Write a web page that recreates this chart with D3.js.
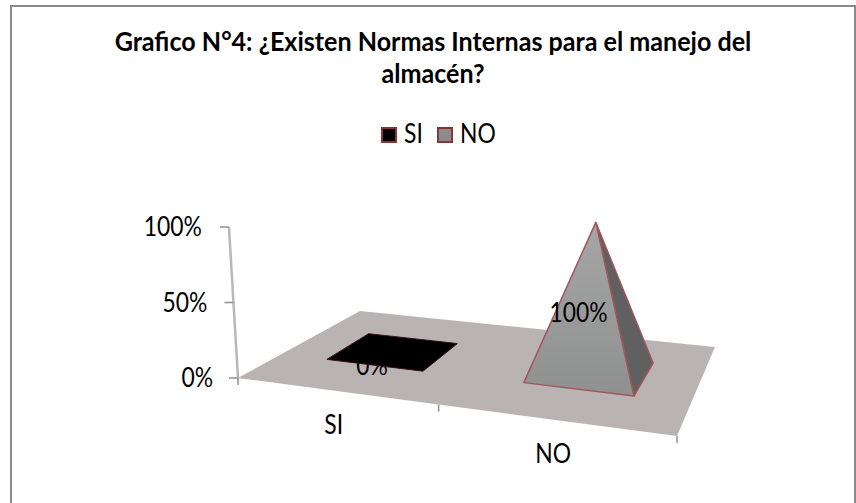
<!DOCTYPE html>
<html lang="es">
<head>
<meta charset="UTF-8">
<title>Grafico N°4</title>
<script src="https://d3js.org/d3.v7.min.js"></script>
<style>
    html, body { margin: 0; padding: 0; background: #fff; overflow: hidden; }
    svg { display: block; }
    text { font-family: Lato, sans-serif; fill: #000; }
</style>
</head>
<body>
<div id="chart"></div>
<script>
    // chart values
    var titleLines = ["Grafico N°4: ¿Existen Normas Internas para el manejo del", "almacén?"];
    var categories = ["SI", "NO"];
    var values = [0, 100];
    var valueLabels = ["0%", "100%"];
    var yTicks = [0, 50, 100];
    var yTickLabels = ["0%", "50%", "100%"];
    var seriesColors = ["#000000", "#8c8c8c"];

    var width = 856, height = 503;
    var labelSize = 26;

    var svg = d3.select("#chart").append("svg")
        .attr("width", width)
        .attr("height", height);

    // the original font is narrower than Lato, squeeze the glyphs a bit
    function squeeze(sel, factor) {
        sel.each(function() {
            d3.select(this)
                .attr("textLength", this.getComputedTextLength() * factor)
                .attr("lengthAdjust", "spacingAndGlyphs");
        });
    }

    var defs = svg.append("defs");
    defs.append("filter").attr("id", "soft")
        .append("feGaussianBlur").attr("stdDeviation", 0.6);
    var grad = defs.append("linearGradient").attr("id", "front")
        .attr("x1", 0).attr("y1", 0).attr("x2", 0).attr("y2", 1);
    grad.append("stop").attr("offset", 0).attr("stop-color", "#a6a6a6");
    grad.append("stop").attr("offset", 1).attr("stop-color", "#8f9090");

    // outer frame, its bottom edge falls below the window
    svg.append("rect")
        .attr("x", 11).attr("y", 6)
        .attr("width", 844).attr("height", 520)
        .attr("fill", "#fff")
        .attr("stroke", "#8a8a8a")
        .attr("stroke-width", 2);

    svg.selectAll(".title").data(titleLines).enter().append("text")
        .attr("class", "title")
        .attr("x", 433)
        .attr("y", function(d, i) { return 51 + i * 32; })
        .attr("text-anchor", "middle")
        .attr("font-size", 26)
        .attr("font-weight", 700)
        .text(function(d) { return d; })
        .call(squeeze, 0.965);

    // the floor is a perspective quad, so u/v go through two edge scales
    var frontX = d3.scaleLinear().domain([0, 1]).range([238, 677]);
    var frontY = d3.scaleLinear().domain([0, 1]).range([378, 436]);
    var backX = d3.scaleLinear().domain([0, 1]).range([360, 715]);
    var backY = d3.scaleLinear().domain([0, 1]).range([311, 347]);

    var y = d3.scaleLinear().domain([0, 100]).range([0, 151]);
    // verticals lean outwards the further right they stand
    var lean = d3.scaleLinear().domain([238, 590]).range([-0.06, 0.034]);

    var catU = d3.scalePoint().domain(categories).range([0.2275, 0.725]);
    var catV = d3.scalePoint().domain(categories).range([0.545, 0.5625]);
    var halfU = d3.scalePoint().domain(categories).range([0.1175, 0.135]);
    var halfV = d3.scalePoint().domain(categories).range([0.185, 0.1925]);

    function project(u, v, val) {
        var fx = frontX(u), fy = frontY(u);
        var px = fx + (backX(u) - fx) * v;
        var py = fy + (backY(u) - fy) * v;
        var h = y(val || 0);
        return [px + lean(px) * h, py - h];
    }

    var line = d3.line();

    // floor
    var plot = svg.append("g").attr("filter", "url(#soft)");
    plot.append("path")
        .attr("d", line([project(0, 0), project(1, 0), project(1, 1), project(0, 1)]) + "Z")
        .attr("fill", "#bab3b4");

    // value axis
    var axisColor = "#8f8f8f";
    plot.append("path")
        .attr("d", line([project(0, 0, 100), project(0, 0, 0)]))
        .attr("fill", "none").attr("stroke", "#b8b8b8").attr("stroke-width", 2.5);
    yTicks.forEach(function(t, i) {
        var p = project(0, 0, t);
        plot.append("path")
            .attr("d", line([[p[0] - 9, p[1]], p]))
            .attr("stroke", axisColor).attr("stroke-width", 1.5);
        svg.append("text")
            .attr("x", p[0] - 25 - (t === 50 ? 1 : 0) - (t === 100 ? 2 : 0))
            .attr("y", p[1] + 9)
            .attr("text-anchor", "end")
            .attr("font-size", labelSize)
            .text(yTickLabels[i])
            .call(squeeze, 0.88);
    });

    // category axis ticks, the middle one is foreshortened
    [0, 0.457, 1].forEach(function(u) {
        var p = project(u, 0);
        plot.append("path")
            .attr("d", line([p, [p[0], p[1] + 7]]))
            .attr("stroke", axisColor).attr("stroke-width", 1.5);
    });

    var catLabelU = d3.scalePoint().domain(categories).range([0.25, 0.75]);
    categories.forEach(function(c) {
        var p = project(catLabelU(c), 0);
        svg.append("text")
            .attr("x", p[0] - 14)
            .attr("y", p[1] + 41)
            .attr("text-anchor", "middle")
            .attr("font-size", labelSize)
            .text(c)
            .call(squeeze, 0.88);
    });

    var edge = "#a2565c";

    categories.forEach(function(c, i) {
        var u = catU(c), v = catV(c), du = halfU(c), dv = halfV(c);
        var fl = project(u - du, v - dv), fr = project(u + du, v - dv);
        var br = project(u + du, v + dv), bl = project(u - du, v + dv);
        var center = project(u, v);

        // the 0% label sits behind its flat marker, the 100% one in front
        var label = svg.append("text")
            .attr("text-anchor", "middle")
            .attr("font-size", labelSize)
            .text(valueLabels[i])
            .call(squeeze, 0.88);

        if (values[i] === 0) {
            label.attr("x", center[0] - 22).attr("y", center[1] + 23);
            svg.append("path")
                .attr("d", line([fl, fr, br, bl]) + "Z")
                .attr("fill", seriesColors[i])
                .attr("stroke", "#3a1015")
                .attr("stroke-width", 1)
                .attr("filter", "url(#soft)");
        } else {
            var apex = project(u, v, values[i]);
            var pyr = svg.append("g").attr("filter", "url(#soft)");
            pyr.append("path")
                .attr("d", line([fr, br, apex]) + "Z")
                .attr("fill", "#606060")
                .attr("stroke", edge).attr("stroke-width", 1.5).attr("stroke-linejoin", "round");
            pyr.append("path")
                .attr("d", line([fl, fr, apex]) + "Z")
                .attr("fill", "url(#front)")
                .attr("stroke", edge).attr("stroke-width", 1.5).attr("stroke-linejoin", "round");
            label.raise();
            label.attr("x", center[0] - 12).attr("y", center[1] - 51);
        }
    });

    // legend
    var legendX = d3.scalePoint().domain(categories).range([381, 437]);
    var legend = svg.selectAll(".legend").data(categories).enter().append("g")
        .attr("class", "legend")
        .attr("transform", function(d) { return "translate(" + legendX(d) + ",127)"; });
    legend.append("rect")
        .attr("x", 1).attr("y", 1)
        .attr("width", 14).attr("height", 14)
        .attr("fill", function(d, i) { return seriesColors[i]; })
        .attr("stroke", "#8b3434")
        .attr("stroke-width", 2);
    legend.append("text")
        .attr("x", 23).attr("y", 16)
        .attr("font-size", labelSize)
        .text(function(d) { return d; })
        .call(squeeze, 0.88);
</script>
</body>
</html>
